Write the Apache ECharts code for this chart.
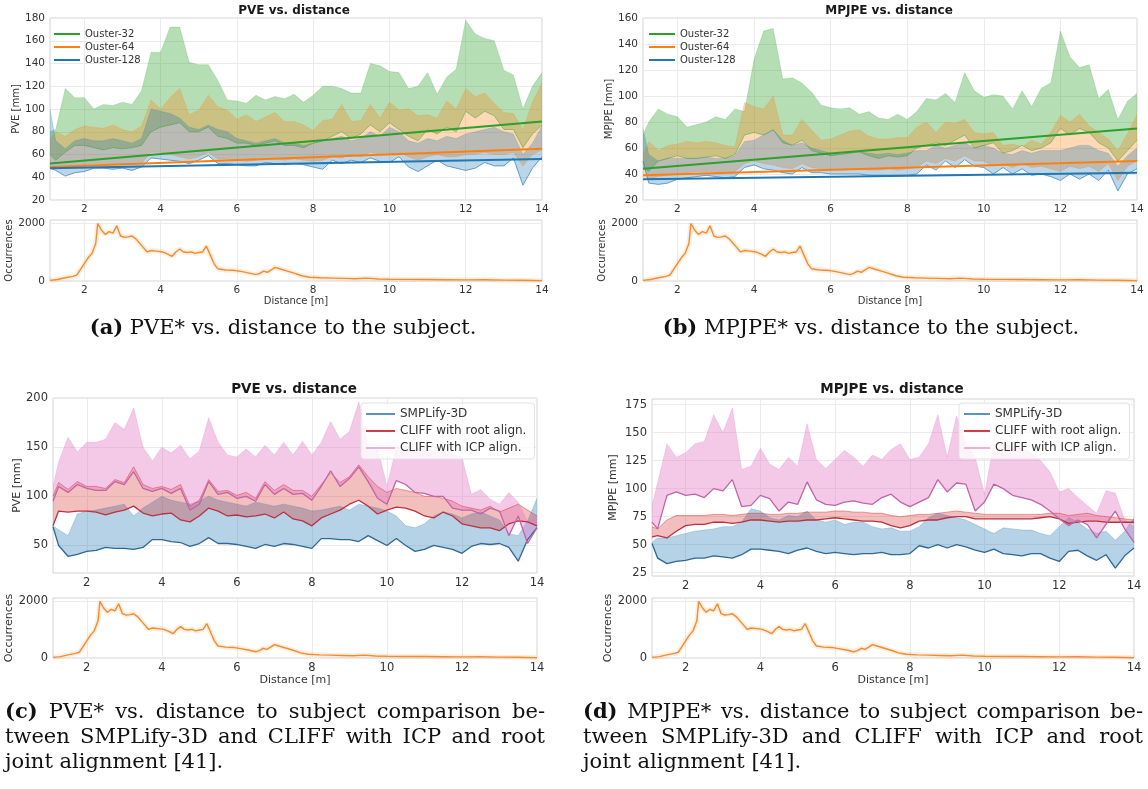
<!DOCTYPE html>
<html>
<head>
<meta charset="utf-8">
<script src="https://cdn.jsdelivr.net/npm/echarts@6/dist/echarts.min.js"></script>
<style>
  html, body { margin: 0; background: #fff; }
  #chart { width: 1148px; height: 789px; }
</style>
</head>
<body>
<div id="chart"></div>
<script>
// distance bins [m]
const dist = [1.1, 1.25, 1.5, 1.75, 2, 2.25, 2.5, 2.75,
  3, 3.25, 3.5, 3.75, 4, 4.25, 4.5, 4.75,
  5, 5.25, 5.5, 5.75, 6, 6.25, 6.5, 6.75,
  7, 7.25, 7.5, 7.75, 8, 8.25, 8.5, 8.75,
  9, 9.25, 9.5, 9.75, 10, 10.25, 10.5, 10.75,
  11, 11.25, 11.5, 11.75, 12, 12.25, 12.5, 12.75,
  13, 13.25, 13.5, 13.75, 14]
const xTicks = [2, 4, 6, 8, 10, 12, 14]

// (a) PVE per sensor: band lower / upper
const pveO32Lo = [60, 55, 62, 68, 68, 66, 64, 66,
  65, 66, 68, 80, 84, 86, 88, 80,
  80, 84, 76, 74, 70, 70, 68, 70,
  72, 68, 68, 66, 70, 72, 76, 80,
  74, 78, 86, 80, 88, 82, 76, 72,
  82, 78, 84, 80, 98, 92, 98, 94,
  82, 82, 66, 78, 86]
const pveO32Hi = [80, 82, 118, 110, 110, 100, 104, 103,
  106, 104, 116, 150, 150, 172, 172, 141,
  139, 139, 125, 108, 107, 105, 112, 108,
  111, 109, 113, 106, 112, 120, 120, 118,
  114, 114, 140, 138, 133, 132, 118, 120,
  132, 113, 128, 135, 178, 166, 162, 160,
  134, 130, 100, 120, 132]
const pveO64Lo = [50, 48, 50, 50, 51, 52, 52, 52,
  52, 51, 52, 62, 62, 60, 58, 56,
  58, 62, 56, 56, 55, 54, 55, 56,
  56, 55, 56, 55, 54, 55, 58, 57,
  60, 58, 62, 60, 60, 62, 58, 55,
  58, 60, 58, 58, 60, 60, 62, 60,
  60, 62, 50, 60, 64]
const pveO64Hi = [74, 80, 76, 82, 85, 84, 83, 86,
  82, 80, 85, 108, 100, 110, 118, 95,
  99, 112, 102, 99, 91, 95, 89, 93,
  97, 89, 89, 86, 81, 90, 91, 104,
  89, 90, 104, 92, 106, 99, 100, 94,
  95, 92, 107, 100, 118, 111, 114, 105,
  97, 96, 82, 106, 123]
const pveO128Lo = [48, 46, 41, 44, 45, 48, 48, 47,
  48, 46, 49, 57, 56, 55, 54, 52,
  55, 59, 52, 52, 51, 50, 50, 53,
  52, 51, 52, 51, 49, 47, 55, 52,
  55, 53, 57, 54, 53, 58, 49, 45,
  50, 55, 50, 48, 46, 48, 53, 50,
  50, 57, 33, 48, 58]
const pveO128Hi = [100, 72, 65, 72, 74, 72, 72, 74,
  72, 70, 74, 100, 98, 96, 92, 84,
  82, 86, 82, 80, 74, 72, 70, 72,
  74, 70, 70, 68, 70, 72, 74, 76,
  72, 74, 80, 76, 84, 80, 72, 70,
  74, 72, 76, 74, 78, 80, 82, 84,
  80, 78, 60, 70, 85]
// linear fits, value at 1.1 m and at 14 m
const trendX = [1.1, 14]
const pveTrend32 = [52, 89]
const pveTrend64 = [49, 65]
const pveTrend128 = [48, 56]

// (b) MPJPE per sensor
const mpjpeO32Lo = [45, 42, 50, 52, 54, 52, 52, 53,
  54, 52, 55, 70, 72, 70, 74, 64,
  62, 66, 58, 56, 54, 55, 56, 57,
  54, 52, 54, 53, 54, 60, 62, 64,
  62, 66, 70, 60, 62, 64, 56, 58,
  62, 58, 60, 64, 75, 70, 75, 72,
  64, 60, 50, 58, 66]
const mpjpeO32Hi = [70, 80, 90, 86, 84, 76, 78, 80,
  84, 82, 90, 88, 128, 150, 152, 113,
  114, 110, 103, 93, 91, 90, 91, 86,
  88, 83, 82, 86, 82, 88, 98, 97,
  102, 95, 118, 104, 99, 101, 100, 90,
  104, 92, 106, 110, 150, 130, 122, 124,
  98, 105, 82, 96, 102]
const mpjpeO64Lo = [38, 36, 38, 39, 40, 41, 42, 42,
  42, 41, 42, 48, 50, 48, 47, 45,
  44, 48, 45, 44, 44, 43, 44, 44,
  43, 43, 44, 43, 44, 45, 50, 48,
  52, 50, 54, 50, 50, 46, 48, 45,
  48, 45, 46, 44, 42, 46, 44, 46,
  42, 48, 35, 46, 50]
const mpjpeO64Hi = [55, 65, 58, 62, 63, 65, 64, 65,
  64, 62, 61, 95, 92, 90, 100, 70,
  70, 82, 74, 66, 67, 70, 73, 74,
  69, 67, 67, 68, 68, 76, 80, 72,
  80, 79, 82, 72, 71, 72, 62, 63,
  61, 66, 63, 72, 85, 80, 86, 77,
  72, 67, 58, 71, 86]
const mpjpeO128Lo = [50, 33, 32, 33, 36, 37, 38, 39,
  38, 37, 38, 45, 47, 44, 43, 41,
  40, 45, 41, 41, 40, 40, 40, 40,
  39, 39, 39, 39, 39, 40, 47, 43,
  50, 45, 51, 46, 45, 40, 45, 40,
  44, 39, 40, 38, 35, 40, 36, 40,
  35, 43, 27, 40, 44]
const mpjpeO128Hi = [75, 55, 50, 52, 52, 52, 52, 53,
  52, 52, 54, 65, 66, 70, 74, 66,
  62, 64, 60, 58, 56, 55, 56, 57,
  56, 55, 56, 55, 56, 58, 58, 62,
  60, 62, 64, 60, 62, 60, 56, 55,
  58, 56, 58, 58, 58, 60, 62, 62,
  58, 56, 46, 54, 60]
const mpjpeTrend32 = [44, 75]
const mpjpeTrend64 = [39, 50]
const mpjpeTrend128 = [36, 41]

// (c) PVE per method: mean (lower edge) and upper edge
const pveSmplLo = [69, 50, 39, 41, 44, 45, 48, 47,
  47, 46, 48, 56, 56, 54, 53, 49,
  52, 58, 52, 52, 51, 49, 47, 51,
  49, 52, 51, 49, 47, 57, 57, 56,
  56, 54, 60, 55, 50, 57, 50, 44,
  46, 50, 48, 46, 42, 49, 52, 51,
  52, 48, 34, 56, 68]
const pveSmplHi = [70, 66, 60, 82, 85, 86, 88, 90,
  92, 80, 88, 94, 100, 96, 94, 92,
  95, 100, 96, 94, 92, 90, 94, 92,
  90, 92, 90, 88, 85, 86, 88, 90,
  86, 92, 90, 88, 85, 80, 70, 68,
  72, 80, 84, 82, 78, 82, 84, 80,
  76, 62, 60, 75, 98]
const pveRootLo = [70, 85, 84, 85, 85, 84, 81, 84,
  86, 90, 83, 80, 82, 83, 76, 74,
  80, 88, 85, 80, 81, 79, 80, 82,
  78, 84, 77, 75, 70, 78, 82, 86,
  92, 96, 90, 82, 86, 89, 88, 85,
  80, 78, 84, 80, 72, 70, 68, 68,
  65, 72, 75, 74, 70]
const pveRootHi = [100, 114, 107, 115, 110, 110, 108, 117,
  114, 130, 112, 108, 110, 107, 112, 90,
  96, 117, 105, 106, 101, 104, 98, 115,
  106, 112, 106, 106, 100, 112, 124, 114,
  120, 132, 120, 110, 104, 108, 106, 104,
  100, 100, 98, 95, 90, 88, 86, 90,
  84, 88, 92, 86, 80]
const pveIcpLo = [95, 110, 104, 112, 108, 106, 106, 115,
  112, 125, 108, 105, 108, 103, 108, 86,
  92, 115, 102, 104, 98, 100, 95, 112,
  102, 108, 102, 103, 96, 110, 126, 110,
  118, 130, 115, 98, 92, 116, 112, 104,
  103, 100, 100, 88, 86, 86, 82, 88,
  85, 60, 80, 52, 68]
const pveIcpHi = [110, 135, 160, 145, 155, 155, 158, 175,
  168, 190, 150, 136, 150, 144, 152, 138,
  146, 180, 155, 142, 140, 148, 140, 152,
  142, 155, 142, 156, 142, 155, 176, 158,
  166, 196, 150, 150, 110, 150, 152, 148,
  150, 146, 148, 142, 140, 102, 107, 97,
  92, 104, 94, 74, 80]

// (d) MPJPE per method
const mpjpeSmplLo = [51, 38, 33, 35, 36, 38, 38, 40,
  39, 38, 41, 46, 46, 45, 44, 42,
  45, 47, 44, 42, 43, 42, 41, 42,
  42, 43, 41, 41, 42, 49, 47, 50,
  47, 50, 48, 45, 43, 46, 42, 41,
  40, 42, 42, 38, 35, 44, 45, 40,
  36, 41, 29, 40, 47]
const mpjpeSmplHi = [52, 56, 56, 58, 60, 62, 63, 64,
  66, 66, 70, 82, 80, 74, 72, 76,
  75, 80, 72, 70, 72, 68, 70, 70,
  66, 64, 65, 62, 62, 66, 74, 78,
  76, 74, 72, 68, 64, 60, 65, 64,
  63, 63, 60, 58, 66, 74, 70, 64,
  60, 62, 54, 62, 74]
const mpjpeRootLo = [57, 58, 56, 62, 67, 68, 68, 70,
  70, 69, 70, 72, 72, 71, 70, 71,
  71, 72, 72, 73, 74, 73, 72, 71,
  71, 70, 67, 65, 67, 71, 72, 72,
  74, 75, 75, 73, 73, 73, 73, 73,
  73, 73, 74, 75, 73, 69, 70, 71,
  71, 70, 70, 70, 70]
const mpjpeRootHi = [66, 64, 72, 76, 76, 76, 76, 77,
  77, 76, 77, 78, 78, 77, 77, 78,
  78, 79, 79, 79, 80, 80, 79, 79,
  78, 78, 76, 75, 76, 77, 77, 78,
  79, 80, 79, 78, 77, 77, 77, 77,
  77, 77, 77, 78, 78, 76, 77, 78,
  76, 75, 74, 73, 72]
const mpjpeIcpLo = [70, 64, 94, 97, 94, 95, 92, 100,
  98, 108, 84, 85, 94, 91, 80, 88,
  86, 106, 90, 86, 85, 88, 89, 87,
  86, 92, 95, 88, 84, 88, 92, 108,
  97, 105, 104, 80, 88, 104, 100, 94,
  92, 90, 86, 80, 73, 67, 72, 68,
  56, 68, 80, 64, 52]
const mpjpeIcpHi = [85, 105, 140, 128, 132, 140, 142, 166,
  150, 172, 117, 120, 136, 122, 117, 128,
  120, 158, 126, 118, 126, 134, 128, 120,
  130, 126, 135, 140, 126, 128, 140, 166,
  128, 165, 140, 128, 95, 140, 140, 138,
  136, 132, 125, 115, 97, 100, 92, 85,
  78, 98, 96, 72, 66]

// occurrences per distance (same sample set in every panel)
const occDist = [1.1, 1.3, 1.5, 1.7, 1.8, 1.9, 2.0, 2.1, 2.2, 2.3,
  2.35, 2.45, 2.55, 2.65, 2.75, 2.85, 2.95, 3.05, 3.15, 3.25,
  3.35, 3.45, 3.55, 3.65, 3.75, 3.9, 4.05, 4.2, 4.3, 4.4,
  4.5, 4.6, 4.7, 4.8, 4.9, 5.0, 5.1, 5.2, 5.3, 5.4,
  5.5, 5.7, 5.9, 6.1, 6.3, 6.5, 6.6, 6.7, 6.8, 6.9,
  7.0, 7.1, 7.3, 7.5, 7.7, 7.9, 8.2, 8.5, 8.8, 9.1,
  9.4, 9.7, 10, 10.5, 11, 11.5, 12, 12.5, 13, 13.5, 14]
const occCount = [20, 50, 110, 160, 200, 400, 600, 800, 950, 1300,
  1980, 1750, 1600, 1700, 1650, 1900, 1550, 1500, 1520, 1550,
  1450, 1300, 1150, 1000, 1050, 1030, 1000, 920, 850, 1000,
  1100, 1000, 980, 1000, 950, 980, 1000, 1200, 900, 600,
  420, 380, 370, 330, 280, 220, 260, 340, 300, 380,
  470, 430, 350, 270, 180, 130, 110, 100, 90, 80,
  100, 70, 60, 55, 50, 45, 40, 45, 30, 25, 10]

const FONT = 'DejaVu Sans'
const GREEN = '#2ca02c', ORANGE = '#ff7f0e', BLUE = '#1f77b4', RED = '#d62728', PINK = '#e377c2'

function rgba(hex, a) {
  const n = parseInt(hex.slice(1), 16)
  return 'rgba(' + (n >> 16) + ',' + ((n >> 8) & 255) + ',' + (n & 255) + ',' + a + ')'
}
function pairs(xs, ys) {
  return xs.map((x, i) => [x, ys[i]])
}

// filled region between lo and hi, drawn as one polygon through the axes
function fill(g, lo, hi, color, alpha) {
  return {
    type: 'custom', xAxisIndex: g, yAxisIndex: g, silent: true, z: 2, clip: true,
    data: dist.map((x, i) => [x, lo[i], hi[i]]),
    encode: { x: 0, y: [1, 2] },
    renderItem: (params, api) => {
      if (params.dataIndex !== 0) return null
      const pts = []
      for (let i = 0; i < dist.length; i++) pts.push(api.coord([dist[i], hi[i]]))
      for (let i = dist.length - 1; i >= 0; i--) pts.push(api.coord([dist[i], lo[i]]))
      return { type: 'polygon', shape: { points: pts }, style: { fill: rgba(color, alpha) } }
    }
  }
}
function line(g, name, ys, style, z) {
  return {
    type: 'line', name, xAxisIndex: g, yAxisIndex: g, data: pairs(dist, ys),
    symbol: 'none', silent: true, z: z || 3, color: style.color, lineStyle: style
  }
}
function band(g, lo, hi, color, alpha, loName, loStyle, hiStyle, loZ) {
  return [
    fill(g, lo, hi, color, alpha),
    line(g, loName || '', lo, loStyle, loZ),
    line(g, '', hi, hiStyle, 3)
  ]
}
function trend(g, name, ys, color) {
  return {
    type: 'line', name, xAxisIndex: g, yAxisIndex: g, data: pairs(trendX, ys),
    symbol: 'none', silent: true, z: 5, color, lineStyle: { color, width: 2 }
  }
}
function occ(g) {
  return [
    { type: 'line', xAxisIndex: g, yAxisIndex: g, data: pairs(occDist, occCount), symbol: 'none',
      silent: true, lineStyle: { color: '#f5a050', width: 5, opacity: 0.18 } },
    { type: 'line', xAxisIndex: g, yAxisIndex: g, data: pairs(occDist, occCount), symbol: 'none',
      silent: true, lineStyle: { color: '#f28c30', width: 1.4 } }
  ]
}
function edge(color, w, op) {
  return { color, width: w, opacity: op }
}

const gridBox = [
  [50, 18, 492, 182], [50, 220, 492, 61],
  [643, 18, 494, 182], [643, 220, 494, 61],
  [53, 398, 484, 175], [53, 598, 484, 60],
  [652, 399, 482, 177], [652, 598, 482, 60]
]
const grid = gridBox.map(b => ({
  left: b[0], top: b[1], width: b[2], height: b[3], show: true,
  borderColor: '#d4d4d4', borderWidth: 1, backgroundColor: '#fff', outerBoundsMode: 'none'
}))

// panels (c), (d) were exported at a slightly larger text scale
const bigText = i => i >= 4
function tickText(i) {
  return { color: '#333', fontFamily: FONT, fontSize: bigText(i) ? 11.5 : 10.5 }
}
function nameText(i) {
  return { color: '#333', fontFamily: FONT, fontSize: bigText(i) ? 11 : 10 }
}
const split = { show: true, lineStyle: { color: '#ebebeb', width: 1 } }

const xAxis = gridBox.map((b, i) => ({
  type: 'value', gridIndex: i, min: 1.1, max: 14,
  axisLine: { show: false },
  axisTick: { show: false, customValues: xTicks },
  axisLabel: Object.assign({ customValues: xTicks, margin: 4 }, tickText(i)),
  splitLine: split,
  name: i % 2 ? 'Distance [m]' : '', nameLocation: 'middle', nameGap: 15, nameTextStyle: nameText(i)
}))

function mainY(i, name, min, max, ticks, gap) {
  return {
    type: 'value', gridIndex: i, min, max,
    axisLine: { show: false },
    axisTick: { show: false, customValues: ticks },
    axisLabel: Object.assign({ customValues: ticks, margin: 5, formatter: v => String(v) }, tickText(i)),
    splitLine: split,
    name, nameLocation: 'middle', nameGap: gap, nameTextStyle: nameText(i)
  }
}
function occY(i, gap) {
  return mainY(i, 'Occurrences', 0, 2100, [0, 2000], gap)
}
const yAxis = [
  mainY(0, 'PVE [mm]', 20, 180, [20, 40, 60, 80, 100, 120, 140, 160, 180], 26),
  occY(1, 31),
  mainY(2, 'MPJPE [mm]', 20, 160, [20, 40, 60, 80, 100, 120, 140, 160], 25),
  occY(3, 31),
  mainY(4, 'PVE [mm]', 22, 200, [50, 100, 150, 200], 28),
  occY(5, 35),
  mainY(6, 'MPJPE [mm]', 22, 180, [25, 50, 75, 100, 125, 150, 175], 33),
  occY(7, 36)
]

const series = [].concat(
  // (a)
  band(0, pveO32Lo, pveO32Hi, GREEN, 0.35, null, edge(GREEN, 0.8, 0.55), edge(GREEN, 0.6, 0.3)),
  band(0, pveO64Lo, pveO64Hi, ORANGE, 0.3, null, edge(ORANGE, 0.7, 0.4), edge(ORANGE, 0.6, 0.3)),
  band(0, pveO128Lo, pveO128Hi, BLUE, 0.3, null, edge(BLUE, 1, 0.65), edge(BLUE, 0.6, 0.3)),
  trend(0, 'Ouster-32', pveTrend32, GREEN),
  trend(0, 'Ouster-64', pveTrend64, ORANGE),
  trend(0, 'Ouster-128', pveTrend128, BLUE),
  occ(1),
  // (b)
  band(2, mpjpeO32Lo, mpjpeO32Hi, GREEN, 0.35, null, edge(GREEN, 0.8, 0.55), edge(GREEN, 0.6, 0.3)),
  band(2, mpjpeO64Lo, mpjpeO64Hi, ORANGE, 0.3, null, edge(ORANGE, 0.7, 0.4), edge(ORANGE, 0.6, 0.3)),
  band(2, mpjpeO128Lo, mpjpeO128Hi, BLUE, 0.3, null, edge(BLUE, 1, 0.65), edge(BLUE, 0.6, 0.3)),
  trend(2, 'Ouster-32', mpjpeTrend32, GREEN),
  trend(2, 'Ouster-64', mpjpeTrend64, ORANGE),
  trend(2, 'Ouster-128', mpjpeTrend128, BLUE),
  occ(3),
  // (c)
  band(4, pveSmplLo, pveSmplHi, BLUE, 0.33, 'SMPLify-3D', edge('#2d6896', 1.3, 1), edge(BLUE, 0.7, 0.35), 4),
  band(4, pveRootLo, pveRootHi, RED, 0.3, 'CLIFF with root align.', edge('#b8323f', 1.3, 1), edge(RED, 0.9, 0.5), 4),
  band(4, pveIcpLo, pveIcpHi, PINK, 0.4, 'CLIFF with ICP align.', edge('#c064a8', 1.3, 1), edge(PINK, 0.7, 0.35), 4),
  occ(5),
  // (d)
  band(6, mpjpeSmplLo, mpjpeSmplHi, BLUE, 0.33, 'SMPLify-3D', edge('#2d6896', 1.3, 1), edge(BLUE, 0.7, 0.35), 4),
  band(6, mpjpeRootLo, mpjpeRootHi, RED, 0.3, 'CLIFF with root align.', edge('#b8323f', 1.3, 1), edge(RED, 0.9, 0.5), 4),
  band(6, mpjpeIcpLo, mpjpeIcpHi, PINK, 0.4, 'CLIFF with ICP align.', edge('#c064a8', 1.3, 1), edge(PINK, 0.7, 0.35), 4),
  occ(7)
)

const title = [
  { text: 'PVE vs. distance', left: 294, top: 5, size: 12 },
  { text: 'MPJPE vs. distance', left: 889, top: 5, size: 12 },
  { text: 'PVE vs. distance', left: 294, top: 382, size: 13.5 },
  { text: 'MPJPE vs. distance', left: 892, top: 382, size: 13.5 }
].map(t => ({
  text: t.text, left: t.left, top: t.top, textAlign: 'center', padding: 0,
  textStyle: { fontFamily: FONT, fontSize: t.size, fontWeight: 'bold', color: '#1a1a1a' }
}))

const sensorNames = ['Ouster-32', 'Ouster-64', 'Ouster-128']
const methodItems = [
  { name: 'SMPLify-3D', itemStyle: { color: '#5a92c2' } },
  { name: 'CLIFF with root align.', itemStyle: { color: '#d23c4a' } },
  { name: 'CLIFF with ICP align.', itemStyle: { color: '#eeaed6' } }
]
const legendBase = {
  orient: 'vertical', icon: 'rect', itemWidth: 26, itemHeight: 2, selectedMode: false,
  textStyle: { fontFamily: FONT, fontSize: 10, color: '#333' }
}
const boxed = {
  backgroundColor: 'rgba(255,255,255,0.8)', borderColor: '#e2e2e2', borderWidth: 1, borderRadius: 3,
  textStyle: { fontFamily: FONT, fontSize: 12, color: '#333' }, itemGap: 5, itemWidth: 29,
  padding: [5, 8, 5, 5]
}
const legend = [
  Object.assign({}, legendBase, { data: sensorNames, left: 50, top: 25, itemGap: 3, padding: 4 }),
  Object.assign({}, legendBase, { data: sensorNames, left: 645, top: 25, itemGap: 3, padding: 4 }),
  Object.assign({}, legendBase, boxed, { data: methodItems, left: 361, top: 403 }),
  Object.assign({}, legendBase, boxed, { data: methodItems, left: 959, top: 403, itemWidth: 26 })
]

// captions under the panels (serif, the long ones justified)
const capFont = '"DejaVu Serif"'
const capSize = 21
const measure = document.createElement('canvas').getContext('2d')
function capWord(x, y, text, bold) {
  return {
    type: 'text', x, y, silent: true,
    style: {
      text, fill: '#111', fontFamily: 'DejaVu Serif', fontSize: capSize, fontWeight: bold ? 'bold' : 'normal',
      align: 'left', verticalAlign: 'middle', textAlign: 'left', textVerticalAlign: 'middle'
    }
  }
}
function wordWidth(w) {
  measure.font = (w.bold ? 'bold ' : '') + capSize + 'px ' + capFont
  return measure.measureText(w.t).width
}
// lay words out from x0 to x1; last lines are left ragged
function capLine(x0, x1, y, words, justify) {
  const widths = words.map(wordWidth)
  const total = widths.reduce((a, b) => a + b, 0)
  const space = wordWidth({ t: ' ' })
  const gap = justify ? (x1 - x0 - total) / (words.length - 1) : space
  let x = x0
  return words.map((w, i) => {
    const el = capWord(x, y, w.t, w.bold)
    x += widths[i] + gap
    return el
  })
}
function words(s, boldFirst) {
  return s.split(' ').map((t, i) => ({ t, bold: boldFirst && i === 0 }))
}
function centered(cx, y, s) {
  const ws = words(s, true)
  const space = wordWidth({ t: ' ' })
  const total = ws.map(wordWidth).reduce((a, b) => a + b, 0) + space * (ws.length - 1)
  return capLine(cx - total / 2, 0, y, ws, false)
}
const graphic = [].concat(
  centered(283, 329, '(a) PVE* vs. distance to the subject.'),
  centered(871, 329, '(b) MPJPE* vs. distance to the subject.'),
  capLine(5, 545, 713, words('(c) PVE* vs. distance to subject comparison be-', true), true),
  capLine(5, 545, 738, words('tween SMPLify-3D and CLIFF with ICP and root'), true),
  capLine(5, 545, 763, words('joint alignment [41].'), false),
  capLine(583, 1143, 713, words('(d) MPJPE* vs. distance to subject comparison be-', true), true),
  capLine(583, 1143, 738, words('tween SMPLify-3D and CLIFF with ICP and root'), true),
  capLine(583, 1143, 763, words('joint alignment [41].'), false)
)

const chart = echarts.init(document.getElementById('chart'))
chart.setOption({
  backgroundColor: '#fff',
  animation: false,
  title,
  legend,
  grid,
  xAxis,
  yAxis,
  series,
  graphic
})
</script>
</body>
</html>
